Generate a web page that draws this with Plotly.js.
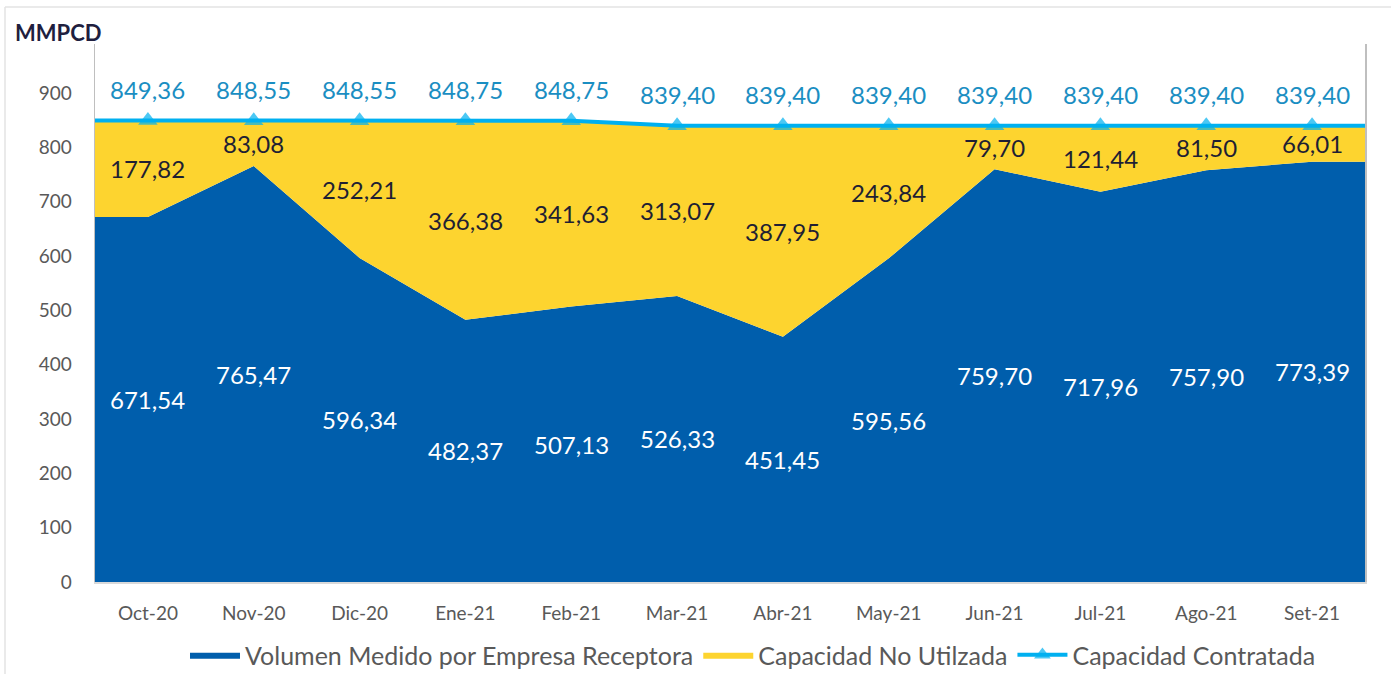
<!DOCTYPE html>
<html>
<head>
<meta charset="utf-8">
<script src="https://cdn.plot.ly/plotly-3.0.1.min.js"></script>
<style>html,body{margin:0;padding:0;background:#fff;}#chart{width:1391px;height:674px;}</style>
</head>
<body>
<div id="chart"></div>
<script>
const categories = ["Oct-20","Nov-20","Dic-20","Ene-21","Feb-21","Mar-21","Abr-21","May-21","Jun-21","Jul-21","Ago-21","Set-21"];
const volumen = [671.54, 765.47, 596.34, 482.37, 507.13, 526.33, 451.45, 595.56, 759.70, 717.96, 757.90, 773.39];
const noUtilizada = [177.82, 83.08, 252.21, 366.38, 341.63, 313.07, 387.95, 243.84, 79.70, 121.44, 81.50, 66.01];
const contratada = [849.36, 848.55, 848.55, 848.75, 848.75, 839.40, 839.40, 839.40, 839.40, 839.40, 839.40, 839.40];

const n = categories.length;
const idx = categories.map((_, i) => i);
// extend areas/line to the plot edges (category axis "between tick marks")
const ext = arr => [arr[0], ...arr, arr[arr.length - 1]];
const xExt = [-0.5, ...idx, n - 0.5];
const fmt = v => v.toFixed(2).replace('.', ',');

const FONT = 'Lato, "Open Sans", sans-serif';

const traces = [
  {
    type: 'scatter', x: xExt, y: ext(volumen), stackgroup: 'one',
    name: 'Volumen Medido por Empresa Receptora',
    mode: 'lines', line: {width: 0, color: '#005EAC'}, fillcolor: '#005EAC',
    hoverinfo: 'skip'
  },
  {
    type: 'scatter', x: xExt, y: ext(noUtilizada), stackgroup: 'one',
    name: 'Capacidad No Utilzada',
    mode: 'lines', line: {width: 0, color: '#FDD42F'}, fillcolor: '#FDD42F',
    hoverinfo: 'skip'
  },
  {
    type: 'scatter', x: xExt, y: ext(contratada),
    name: 'Capacidad Contratada',
    mode: 'lines+markers', line: {width: 4, color: '#00B0F0'},
    marker: {symbol: 'triangle-up', color: '#00B0F0', line: {width: 0},
      size: xExt.map((x) => (x < 0 || x > n - 1) ? 0 : 17)},
    hoverinfo: 'skip'
  }
];

const annotations = [];
idx.forEach(i => {
  annotations.push({x: i, y: volumen[i] / 2, text: fmt(volumen[i]), showarrow: false,
    font: {family: FONT, size: 24, color: '#FFFFFF'}});
  annotations.push({x: i, y: volumen[i] + noUtilizada[i] / 2, text: fmt(noUtilizada[i]), showarrow: false,
    font: {family: FONT, size: 24, color: '#1F1F33'}});
  annotations.push({x: i, y: contratada[i], yshift: 31, text: fmt(contratada[i]), showarrow: false,
    font: {family: FONT, size: 24, color: '#1A8EC2'}});
});

const layout = {
  width: 1391, height: 674,
  margin: {l: 95, r: 26, t: 44, b: 92, autoexpand: false},
  paper_bgcolor: '#FFFFFF', plot_bgcolor: '#FFFFFF',
  font: {family: FONT, color: '#595959'},
  title: {text: '<b>MMPCD</b>', xref: 'container', yref: 'container', x: 15/1391, xanchor: 'left',
    y: 1 - 33/674, yanchor: 'middle', font: {family: FONT, size: 22, color: '#1F1F3F'}},
  showlegend: true,
  legend: {orientation: 'h', xref: 'container', yref: 'container', x: 753/1391, xanchor: 'center',
    y: 1 - 655/674, yanchor: 'middle',
    font: {family: FONT, size: 25, color: '#595959'}, itemwidth: 50, traceorder: 'normal'},
  xaxis: {
    type: 'linear', range: [-0.5, n - 0.5], tickmode: 'array', tickvals: idx, ticktext: categories,
    showgrid: false, zeroline: false, showline: true, linecolor: '#D9D9D9', linewidth: 1.5,
    ticks: '', ticklabelstandoff: 14, tickfont: {family: FONT, size: 19, color: '#595959'}, fixedrange: true
  },
  yaxis: {
    range: [0, 990], tickmode: 'linear', tick0: 0, dtick: 100,
    showgrid: false, zeroline: false, showline: true, mirror: true, linecolor: '#BFBFBF', linewidth: 1.5,
    ticks: '', ticklabelstandoff: 18, tickfont: {family: FONT, size: 19, color: '#595959'}, fixedrange: true
  },
  annotations: annotations,
  shapes: [
    {type: 'line', xref: 'paper', yref: 'paper', x0: (5 - 95)/1270, x1: (5 - 95)/1270, y0: (582 - 7)/538, y1: (582 - 674)/538,
      line: {color: '#E3E3E3', width: 1.5}},
    {type: 'line', xref: 'paper', yref: 'paper', x0: (5 - 95)/1270, x1: (1391 - 95)/1270, y0: (582 - 7)/538, y1: (582 - 7)/538,
      line: {color: '#E3E3E3', width: 1.5}}
  ]
};

Plotly.newPlot('chart', traces, layout, {displayModeBar: false, staticPlot: true});
</script>
</body>
</html>
